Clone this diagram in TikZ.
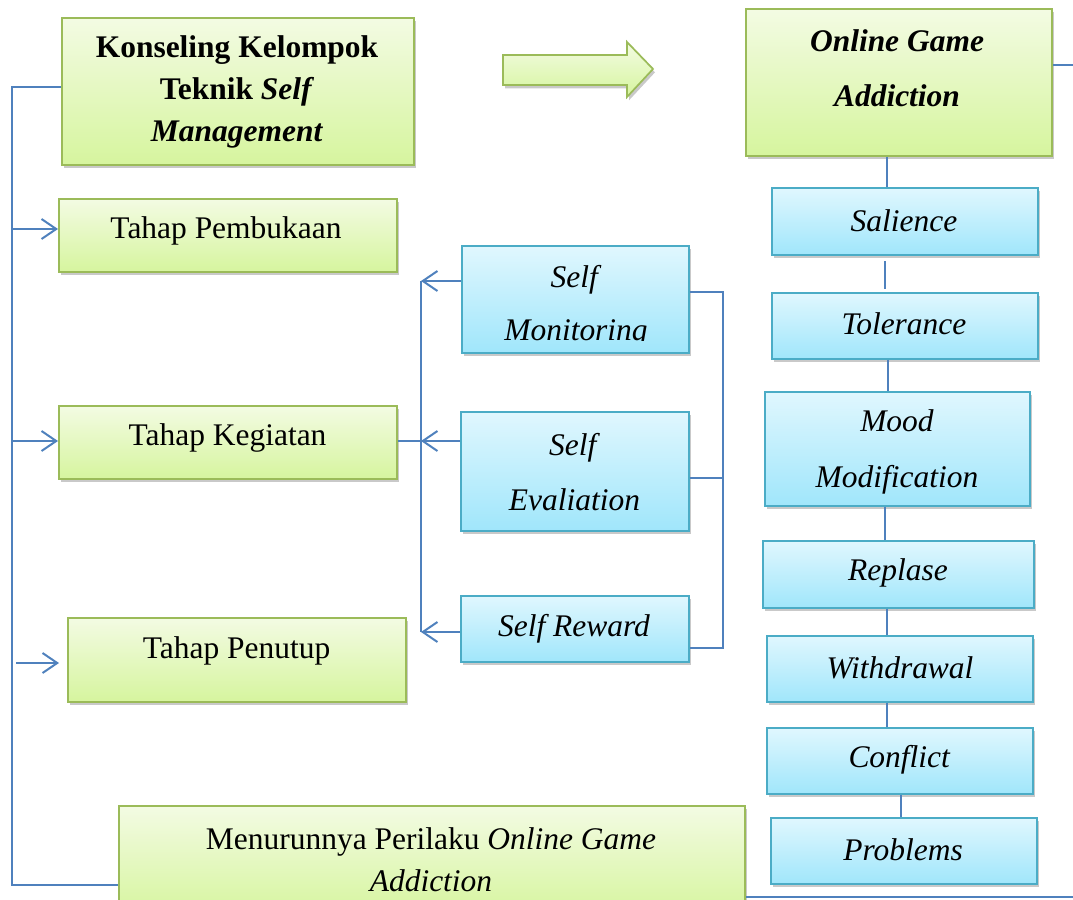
\documentclass[tikz,border=0pt]{standalone}
\usepackage{fontspec}
\setmainfont{Liberation Serif}
\usetikzlibrary{shadows,arrows.meta}
\definecolor{gborder}{HTML}{9BBB59}
\definecolor{gtop}{HTML}{F3FBE3}
\definecolor{gbot}{HTML}{D6F59E}
\definecolor{bborder}{HTML}{4BACC6}
\definecolor{btop}{HTML}{E0F7FE}
\definecolor{bbot}{HTML}{A0E6FB}
\definecolor{lineblue}{HTML}{4F81BD}
\tikzset{
  sz/.style 2 args={minimum width=#1*0.75pt, minimum height=#2*0.75pt},
  boxbase/.style={rectangle, anchor=north west, inner sep=0pt, line width=1.3pt,
    drop shadow={shadow xshift=1.5pt, shadow yshift=-2.5pt, opacity=0.3, fill=black!70}},
  gbox/.style={boxbase, draw=gborder, top color=gtop, bottom color=gbot},
  bbox/.style={boxbase, draw=bborder, top color=btop, bottom color=bbot},
  txt/.style={inner sep=0pt, align=center, font=\fontsize{23.6pt}{31.5pt}\selectfont},
  txtw/.style={txt, font=\fontsize{23.6pt}{#1}\selectfont},
  conn/.style={draw=lineblue, line width=1.5pt},
  arr/.style={conn, -{Straight Barb[length=11pt,width=15pt]}},
}
\begin{document}
\begin{tikzpicture}[x=0.75pt, y=-0.75pt]
\useasboundingbox (0,0) rectangle (1073,899);
\clip (0,0) rectangle (1073,899);

% left column boxes
\node[gbox, sz={352}{147}] (kons) at (61,17) {};
\node[gbox, sz={338}{73}] (pemb) at (58,198) {};
\node[gbox, sz={338}{73}] (keg) at (58,405) {};
\node[gbox, sz={338}{84}] (pen) at (67,617) {};
\node[gbox, sz={626}{110}] (men) at (118,805) {};

% middle boxes
\node[bbox, sz={227}{107}] (smon) at (461,245) {};
\node[bbox, sz={228}{119}] (seva) at (460,411) {};
\node[bbox, sz={228}{66}] (srew) at (460,595) {};

% right column
\node[gbox, sz={306}{147}] (oga) at (745,8) {};
\node[bbox, sz={266}{67}] (sal) at (771,187) {};
\node[bbox, sz={266}{66}] (tol) at (771,292) {};
\node[bbox, sz={265}{114}] (mood) at (764,391) {};
\node[bbox, sz={271}{67}] (rep) at (762,540) {};
\node[bbox, sz={266}{66}] (wd) at (766,635) {};
\node[bbox, sz={266}{66}] (con) at (766,727) {};
\node[bbox, sz={266}{66}] (prob) at (770,817) {};

% block arrow
\path[draw=gborder, line width=1.3pt, top color=gtop, bottom color=gbot,
  drop shadow={shadow xshift=1.5pt, shadow yshift=-2.5pt, opacity=0.3, fill=black!70}]
  (503,55) -- (627,55) -- (627,42) -- (653,69) -- (627,97) -- (627,85) -- (503,85) -- cycle;

% texts
\node[txt] (tkons) at (237,92) {\textbf{Konseling Kelompok}\\\textbf{Teknik \textit{Self}}\\\textbf{\textit{Management}}};
\node[txt] (tpemb) at (226,231) {Tahap Pembukaan};
\node[txt] (tkeg) at (227.5,438) {Tahap Kegiatan};
\node[txt] (tpen) at (236.5,651) {Tahap Penutup};
\node[txt] (tmen) at (431,860) {Menurunnya Perilaku \textit{Online Game}\\\textit{Addiction}};
\begin{scope}
\clip (461,245) rectangle (688,340);
\node[txtw=39.75pt] (tsmon) at (576,306.5) {\textit{Self}\\\textit{Monitoring}};
\end{scope}
\node[txtw=41.25pt] (tseva) at (574.5,472.5) {\textit{Self}\\\textit{Evaliation}};
\node[txt] (tsrew) at (574,629) {\textit{Self Reward}};
\node[txtw=41.25pt] (toga) at (897,68.5) {\textbf{\textit{Online Game}}\\\textbf{\textit{Addiction}}};
\node[txt] (tsal) at (904,221) {\textit{Salience}};
\node[txt] (ttol) at (904,324) {\textit{Tolerance}};
\node[txtw=42pt] (tmood) at (897,452) {\textit{Mood}\\\textit{Modification}};
\node[txt] (trep) at (898,573) {\textit{Replase}};
\node[txt] (twd) at (900,668) {\textit{Withdrawal}};
\node[txt] (tcon) at (899.5,760) {\textit{Conflict}};
\node[txt] (tprob) at (903,850) {\textit{Problems}};

% left bus
\coordinate (L1) at (12,87);
\coordinate (L2) at (12,885);
\draw[conn] (kons.west |- L1) -- (L1) -- (L2) -- (men.west |- L2);
\draw[arr] (12,229) -- (pemb.west |- 0,229);
\draw[arr] (12,441) -- (keg.west |- 0,441);
\draw[arr] (16,663) -- (59,663);

% middle bus
\coordinate (M1) at (421,281);
\coordinate (M2) at (421,632);
\draw[conn] (M1) -- (M2);
\draw[arr] (smon.west |- M1) -- (M1);
\draw[arr] (seva.west |- 0,441) -- (421,441);
\draw[arr] (srew.west |- M2) -- (M2);
\draw[conn] (keg.east |- 0,441) -- (421,441);

% right bus
\coordinate (R1) at (723,292);
\coordinate (R2) at (723,648);
\draw[conn] (smon.east |- R1) -- (R1) -- (R2) -- (srew.east |- R2);
\draw[conn] (seva.east |- 0,478) -- (723,478);

% right column connectors
\draw[conn] (oga.south -| 887,0) -- (sal.north -| 887,0);
\draw[conn, shorten <=4pt, shorten >=2pt] (sal.south -| 885,0) -- (tol.north -| 885,0);
\draw[conn] (tol.south -| 888,0) -- (mood.north -| 888,0);
\draw[conn] (mood.south -| 885,0) -- (rep.north -| 885,0);
\draw[conn] (rep.south -| 887,0) -- (wd.north -| 887,0);
\draw[conn] (wd.south -| 887,0) -- (con.north -| 887,0);
\draw[conn] (con.south -| 901,0) -- (prob.north -| 901,0);

% feedback loop leaving the frame
\draw[conn] (oga.east |- 0,65) -- (1090,65) -- (1090,897) -- (men.east |- 0,897);
\end{tikzpicture}
\end{document}
